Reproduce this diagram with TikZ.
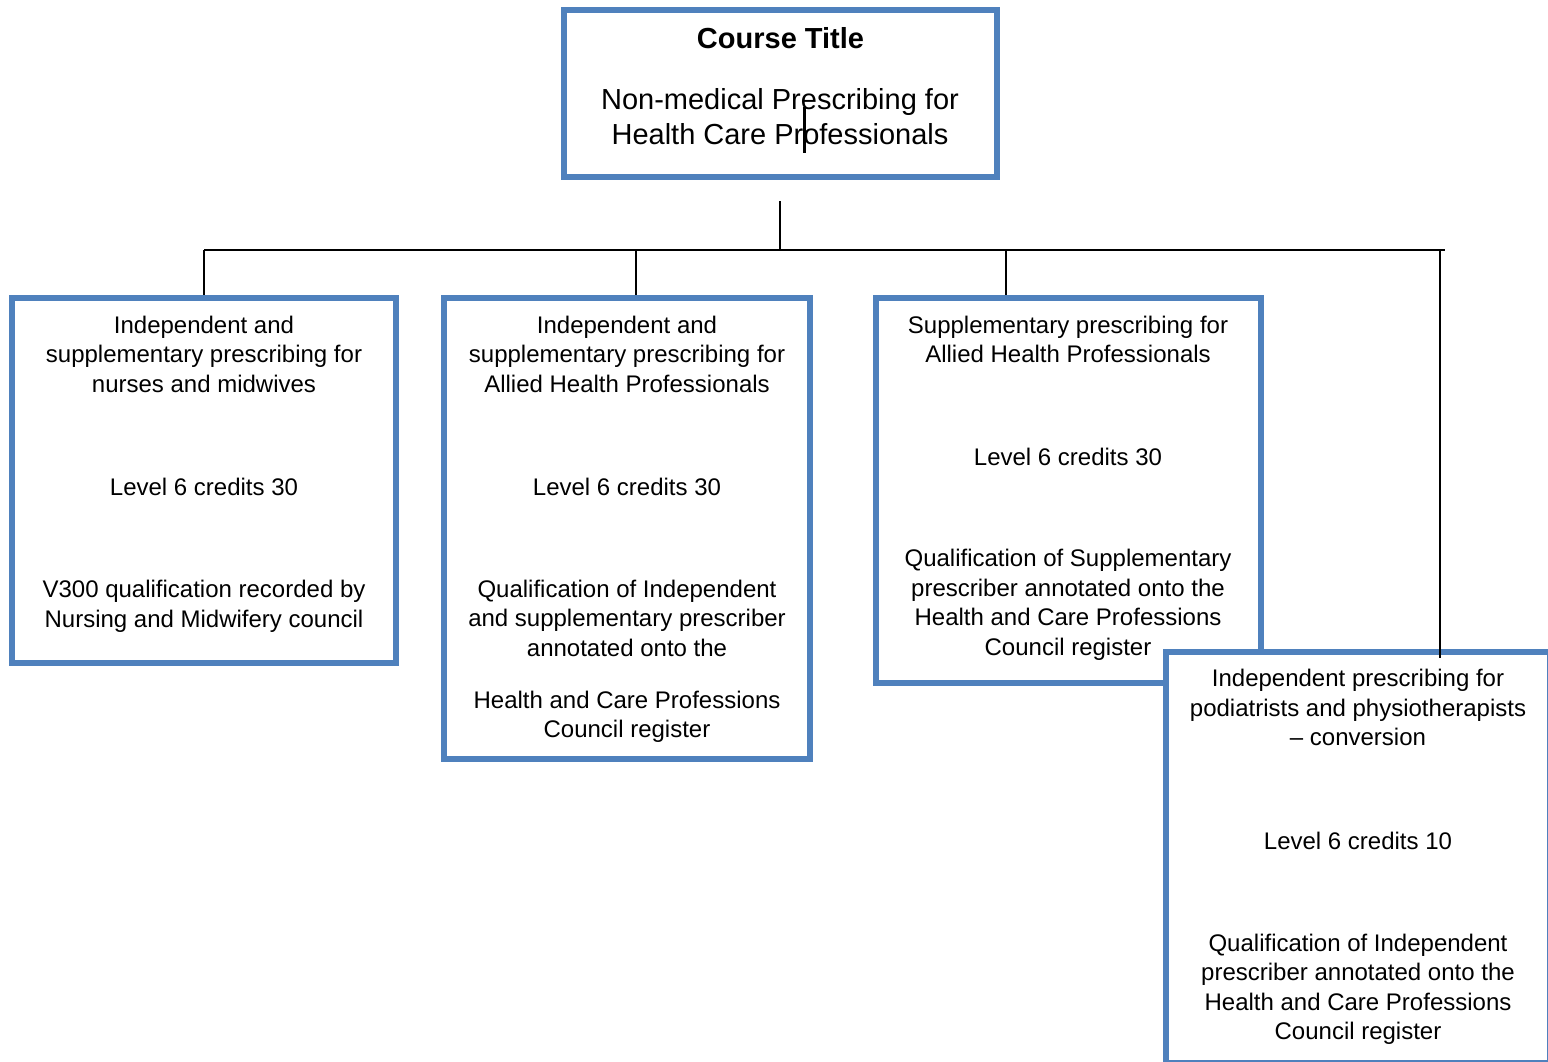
\documentclass[tikz,border=0pt]{standalone}
\usepackage{fontspec}
\setmainfont{Liberation Sans}
\definecolor{boxblue}{RGB}{79,129,189}
\newcommand\mylines[1]{\begin{tabular}[t]{@{}c@{}}#1\end{tabular}}
\begin{document}
\begin{tikzpicture}[x=1pt,y=-1pt,
  box/.style={draw=boxblue, line width=6pt, fill=white, rectangle, inner sep=0pt, outer sep=0pt},
  lbl/.style={anchor=base, inner sep=0pt, outer sep=0pt, font=\fontsize{24}{29.5}\selectfont},
  ttl/.style={anchor=base, inner sep=0pt, outer sep=0pt, font=\fontsize{29}{35}\selectfont},
  conn/.style={draw=black, line width=2pt}]
\useasboundingbox (0,0) rectangle (1548,1061);
\clip (0,0) rectangle (1548,1061);

% coordinates of connector ends
\coordinate (stem) at (780,201);
\coordinate (busL) at (204,249.5);
\coordinate (busR) at (1445,249.5);
\coordinate (d2) at (636,249.5);
\coordinate (d3) at (1006,249.5);
\coordinate (d4) at (1440,249.5);

% connectors under the boxes
\draw[conn] (stem) -- (stem |- busL);
\draw[conn] (busL) -- (busR);

% title box
\node[box, minimum width=433pt, minimum height=166.8pt] (top) at (780.25,93.1) {};
\node[ttl] (tA) at (780.5,48.3) {\bfseries Course Title};
\node[ttl] (tB) at (780,109.3) {\mylines{Non-medical Prescribing for\\Health Care Professionals}};
\coordinate (cur1) at (804.4,107);
\coordinate (cur2) at (804.4,153);
\draw[line width=2.6pt] (cur1) -- (cur2);

% box 1
\draw[conn] (busL) -- (busL |- 0,298);
\node[box, minimum width=384pt, minimum height=365pt] (b1) at (204,480.5) {};
\node[lbl] (b1a) at (204,333) {\mylines{Independent and\\supplementary prescribing for\\nurses and midwives}};
\node[lbl] (b1b) at (204,495) {Level 6 credits 30};
\node[lbl] (b1c) at (204,597.5) {\mylines{V300 qualification recorded by\\Nursing and Midwifery council}};

% box 2
\draw[conn] (d2) -- (d2 |- 0,298);
\node[box, minimum width=366pt, minimum height=460.5pt] (b2) at (627,528.25) {};
\node[lbl] (b2a) at (627,333) {\mylines{Independent and\\supplementary prescribing for\\Allied Health Professionals}};
\node[lbl] (b2b) at (627,495) {Level 6 credits 30};
\node[lbl] (b2c) at (627,597.3) {\mylines{Qualification of Independent\\and supplementary prescriber\\annotated onto the}};
\node[lbl] (b2d) at (627,708.3) {\mylines{Health and Care Professions\\Council register}};

% box 3
\draw[conn] (d3) -- (d3 |- 0,298);
\node[box, minimum width=385pt, minimum height=385pt] (b3) at (1068.5,490.5) {};
\node[lbl] (b3a) at (1068,333.3) {\mylines{Supplementary prescribing for\\Allied Health Professionals}};
\node[lbl] (b3b) at (1068,465) {Level 6 credits 30};
\node[lbl] (b3c) at (1068,566.7) {\mylines{Qualification of Supplementary\\prescriber annotated onto the\\Health and Care Professions\\Council register}};

% box 4
\node[box, minimum width=384pt, minimum height=411pt] (b4) at (1358,857.5) {};
\node[lbl] (b4a) at (1358,686.7) {\mylines{Independent prescribing for\\podiatrists and physiotherapists\\– conversion}};
\node[lbl] (b4b) at (1358,849) {Level 6 credits 10};
\node[lbl] (b4c) at (1358,951) {\mylines{Qualification of Independent\\prescriber annotated onto the\\Health and Care Professions\\Council register}};
\draw[conn] (d4) -- ([yshift=-6pt]d4 |- b4.north);
\end{tikzpicture}
\end{document}
